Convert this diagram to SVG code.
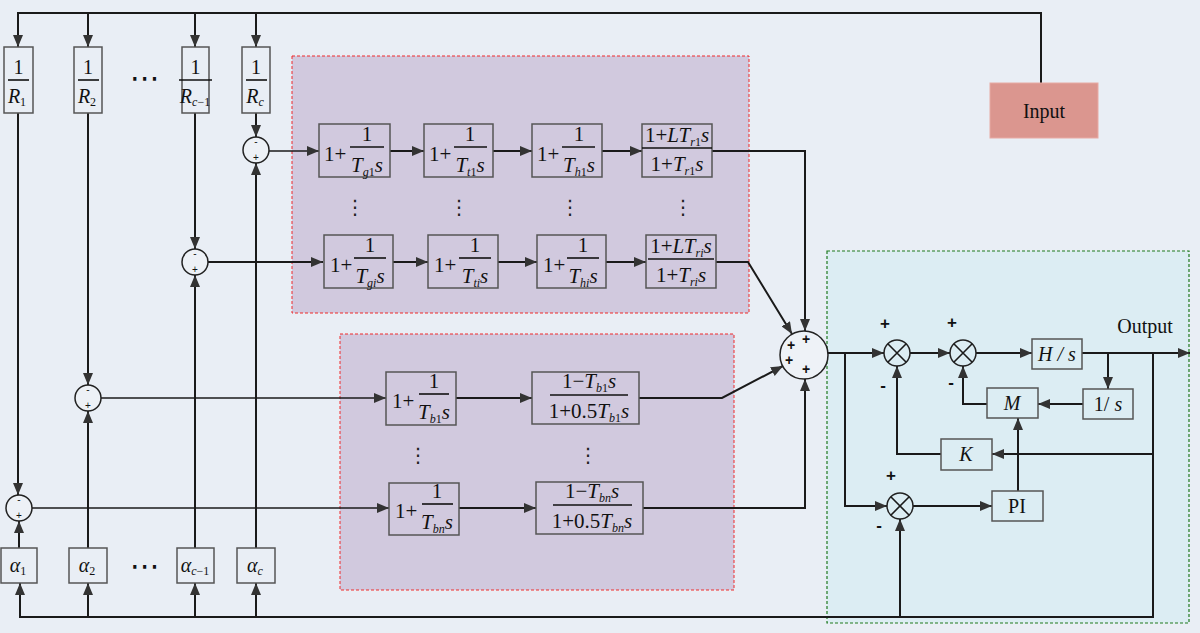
<svg xmlns="http://www.w3.org/2000/svg" width="1200" height="633" viewBox="0 0 1200 633">
<defs>
<marker id="ar" viewBox="0 0 12 10" refX="12" refY="5" markerWidth="12" markerHeight="10" markerUnits="userSpaceOnUse" orient="auto">
<path d="M0,0 L12,5 L0,10 Z" fill="#333"/>
</marker>
<style>
.ln{stroke:#1a1a1a;stroke-width:2;fill:none}
.th{stroke:#1a1a1a;stroke-width:1.6;fill:none}
.bx{fill:none;stroke:#555;stroke-width:1.5}
.cb{fill:#dcedf3;stroke:#555;stroke-width:1.5}
.bar{stroke:#111;stroke-width:1.6}
.m{font-family:"Liberation Serif",serif;font-size:21px;fill:#111}
.r{font-family:"Liberation Serif",serif;font-size:20px;fill:#111}
.i{font-style:italic}
.sb{font-size:12px}
.sm{font-family:"Liberation Sans",sans-serif;font-size:10px;fill:#111;text-anchor:middle}
.pm{font-family:"Liberation Sans",sans-serif;font-size:17px;font-weight:bold;fill:#111;text-anchor:middle}
.ps{font-family:"Liberation Sans",sans-serif;font-size:14px;font-weight:bold;fill:#111;text-anchor:middle}
.dt{font-family:"DejaVu Sans",sans-serif;font-size:20px;fill:#222;text-anchor:middle}
.hd{font-family:"DejaVu Sans",sans-serif;font-size:30px;fill:#111;text-anchor:middle}
.sc{fill:#edf1f6;stroke:#222;stroke-width:1.5}
.mul{fill:#dcedf3;stroke:#222;stroke-width:1.5}
.c{text-anchor:middle}
</style>
</defs>
<rect width="1200" height="633" fill="#e9eef5"/>

<!-- regions -->
<g id="region-thermal-hydro">
<rect x="292" y="56" width="457" height="257" fill="#d1c9de" stroke="#f02a2a" stroke-width="1" stroke-dasharray="3,2"/>
</g>
<g id="region-battery">
<rect x="340" y="334" width="394" height="256" fill="#d1c9de" stroke="#f02a2a" stroke-width="1" stroke-dasharray="3,2"/>
</g>
<g id="region-plant">
<rect x="827" y="251" width="362" height="372" fill="#dcedf3" stroke="#1e7a1e" stroke-width="1.2" stroke-dasharray="3,2"/>
</g>

<!-- connectors -->
<g id="connectors">
<path class="ln" d="M1041,83 V13 H18 V47" marker-end="url(#ar)"/>
<path class="ln" d="M88,13 V47" marker-end="url(#ar)"/>
<path class="ln" d="M195,13 V47" marker-end="url(#ar)"/>
<path class="ln" d="M256,13 V47" marker-end="url(#ar)"/>

<path class="ln" d="M18,113 V495" marker-end="url(#ar)"/>
<path class="ln" d="M88,113 V385" marker-end="url(#ar)"/>
<path class="ln" d="M195,113 V249" marker-end="url(#ar)"/>
<path class="ln" d="M256,113 V137" marker-end="url(#ar)"/>

<path class="ln" d="M19,548 V521" marker-end="url(#ar)"/>
<path class="ln" d="M88,548 V411" marker-end="url(#ar)"/>
<path class="ln" d="M195,548 V275" marker-end="url(#ar)"/>
<path class="ln" d="M256,548 V163" marker-end="url(#ar)"/>

<path class="ln" d="M1153,353 V617 H20 V583" marker-end="url(#ar)"/>
<path class="ln" d="M88,617 V583" marker-end="url(#ar)"/>
<path class="ln" d="M195,617 V583" marker-end="url(#ar)"/>
<path class="ln" d="M256,617 V583" marker-end="url(#ar)"/>

<path class="th" d="M269,151 H319" marker-end="url(#ar)"/>
<path class="ln" d="M208,262 H323" marker-end="url(#ar)"/>
<path class="th" d="M101,398 H386" marker-end="url(#ar)"/>
<path class="th" d="M31,508 H389" marker-end="url(#ar)"/>

<path class="ln" d="M390,151 H424" marker-end="url(#ar)"/>
<path class="ln" d="M493,151 H532" marker-end="url(#ar)"/>
<path class="ln" d="M602,151 H642" marker-end="url(#ar)"/>
<path class="ln" d="M712,151 H805 V331" marker-end="url(#ar)"/>

<path class="ln" d="M393,262 H428" marker-end="url(#ar)"/>
<path class="ln" d="M498,262 H537" marker-end="url(#ar)"/>
<path class="ln" d="M606,262 H646" marker-end="url(#ar)"/>
<path class="ln" d="M716,262 H748 L792,334" stroke-width="2.6" marker-end="url(#ar)"/>

<path class="ln" d="M456,398 H532" marker-end="url(#ar)"/>
<path class="ln" d="M639,398 H722 L783,366" stroke-width="2.6" marker-end="url(#ar)"/>
<path class="ln" d="M459,508 H536" marker-end="url(#ar)"/>
<path class="ln" d="M643,508 H805 V379" marker-end="url(#ar)"/>

<path class="ln" d="M828,353 H884" marker-end="url(#ar)"/>
<path class="ln" d="M910,353 H950" marker-end="url(#ar)"/>
<path class="ln" d="M976,353 H1032" marker-end="url(#ar)"/>
<path class="ln" d="M1082,353 H1190" marker-end="url(#ar)"/>
<path class="ln" d="M1108,353 V389" marker-end="url(#ar)"/>
<path class="ln" d="M1083,404 H1038" marker-end="url(#ar)"/>
<path class="ln" d="M987,404 H963 V366" marker-end="url(#ar)"/>
<path class="ln" d="M845,353 V506 H887" marker-end="url(#ar)"/>
<path class="ln" d="M913,506 H992" marker-end="url(#ar)"/>
<path class="ln" d="M1018,491 V418" marker-end="url(#ar)"/>
<path class="ln" d="M1153,454 H992" marker-end="url(#ar)"/>
<path class="ln" d="M941,454 H897 V366" marker-end="url(#ar)"/>
<path class="ln" d="M900,617 V519" marker-end="url(#ar)"/>
</g>

<!-- input -->
<g id="input">
<rect x="990" y="83" width="108" height="55" fill="#db968f" stroke="#e8aaa4" stroke-width="1"/>
<text x="1044" y="118" class="r c" font-size="19">Input</text>
</g>

<!-- 1/R blocks -->
<g id="R1">
<rect class="bx" x="4" y="47" width="29" height="66"/>
<text x="18.5" y="74" class="r c">1</text>
<line class="bar" x1="8" y1="80" x2="29" y2="80"/>
<text x="17" y="103" class="r c"><tspan class="i">R</tspan><tspan class="sb" dy="3">1</tspan></text>
</g>
<g id="R2">
<rect class="bx" x="74" y="47" width="28" height="66"/>
<text x="88" y="74" class="r c">1</text>
<line class="bar" x1="78" y1="80" x2="99" y2="80"/>
<text x="87" y="103" class="r c"><tspan class="i">R</tspan><tspan class="sb" dy="3">2</tspan></text>
</g>
<text x="145" y="88" class="hd">⋯</text>
<g id="Rc1">
<rect class="bx" x="182" y="47" width="27" height="66"/>
<text x="195.5" y="74" class="r c">1</text>
<line class="bar" x1="179" y1="80" x2="212" y2="80"/>
<text x="195" y="103" class="r c"><tspan class="i">R</tspan><tspan class="sb i" dy="3">c</tspan><tspan class="sb" dy="0">−1</tspan></text>
</g>
<g id="Rc">
<rect class="bx" x="242" y="47" width="28" height="66"/>
<text x="256" y="74" class="r c">1</text>
<line class="bar" x1="246" y1="80" x2="267" y2="80"/>
<text x="255" y="103" class="r c"><tspan class="i">R</tspan><tspan class="sb i" dy="3">c</tspan></text>
</g>

<!-- alpha blocks -->
<g id="a1">
<rect class="bx" x="1" y="548" width="36" height="35"/>
<text x="18" y="572" class="r c"><tspan class="i">α</tspan><tspan class="sb" dy="3">1</tspan></text>
</g>
<g id="a2">
<rect class="bx" x="69" y="548" width="38" height="35"/>
<text x="87" y="572" class="r c"><tspan class="i">α</tspan><tspan class="sb" dy="3">2</tspan></text>
</g>
<text x="145" y="576" class="hd">⋯</text>
<g id="ac1">
<rect class="bx" x="177" y="548" width="37" height="35"/>
<text x="195" y="572" class="r c"><tspan class="i">α</tspan><tspan class="sb i" dy="3">c</tspan><tspan class="sb">−1</tspan></text>
</g>
<g id="ac">
<rect class="bx" x="237" y="548" width="38" height="35"/>
<text x="255" y="572" class="r c"><tspan class="i">α</tspan><tspan class="sb i" dy="3">c</tspan></text>
</g>

<!-- small summing junctions -->
<g id="Sc"><circle class="sc" cx="256" cy="150" r="13"/><text x="256" y="145" class="sm">-</text><text x="256" y="161" class="sm">+</text></g>
<g id="Si"><circle class="sc" cx="195" cy="262" r="13"/><text x="195" y="257" class="sm">-</text><text x="195" y="273" class="sm">+</text></g>
<g id="S2"><circle class="sc" cx="88" cy="398" r="13"/><text x="88" y="393" class="sm">-</text><text x="88" y="409" class="sm">+</text></g>
<g id="S1"><circle class="sc" cx="19" cy="508" r="13"/><text x="19" y="503" class="sm">-</text><text x="19" y="519" class="sm">+</text></g>

<!-- row 1 -->
<g id="g1">
<rect class="bx" x="319" y="124" width="71" height="53"/>
<text x="324" y="161" class="m">1+</text>
<line class="bar" x1="350" y1="147" x2="384" y2="147"/>
<text x="367" y="141" class="m c">1</text>
<text x="367" y="172" class="m c"><tspan class="i">T</tspan><tspan class="sb i" dy="4">g</tspan><tspan class="sb">1</tspan><tspan class="i" dy="-4">s</tspan></text>
</g>
<g id="t1">
<rect class="bx" x="424" y="124" width="69" height="53"/>
<text x="429" y="161" class="m">1+</text>
<line class="bar" x1="454" y1="147" x2="487" y2="147"/>
<text x="470" y="141" class="m c">1</text>
<text x="470" y="172" class="m c"><tspan class="i">T</tspan><tspan class="sb i" dy="4">t</tspan><tspan class="sb">1</tspan><tspan class="i" dy="-4">s</tspan></text>
</g>
<g id="h1">
<rect class="bx" x="532" y="124" width="70" height="53"/>
<text x="537" y="161" class="m">1+</text>
<line class="bar" x1="562" y1="147" x2="595" y2="147"/>
<text x="579" y="141" class="m c">1</text>
<text x="579" y="172" class="m c"><tspan class="i">T</tspan><tspan class="sb i" dy="4">h</tspan><tspan class="sb">1</tspan><tspan class="i" dy="-4">s</tspan></text>
</g>
<g id="r1">
<rect class="bx" x="642" y="124" width="70" height="53"/>
<line class="bar" x1="642" y1="148" x2="712" y2="148"/>
<text x="677" y="142" class="m c" font-size="19"><tspan>1+</tspan><tspan class="i">LT</tspan><tspan class="sb i" dy="4">r</tspan><tspan class="sb">1</tspan><tspan class="i" dy="-4">s</tspan></text>
<text x="677" y="171" class="m c" font-size="19"><tspan>1+</tspan><tspan class="i">T</tspan><tspan class="sb i" dy="4">r</tspan><tspan class="sb">1</tspan><tspan class="i" dy="-4">s</tspan></text>
</g>
<text x="355" y="214" class="dt">⋮</text>
<text x="459" y="214" class="dt">⋮</text>
<text x="570" y="214" class="dt">⋮</text>
<text x="683" y="214" class="dt">⋮</text>

<!-- row i -->
<g id="gi">
<rect class="bx" x="324" y="235" width="69" height="53"/>
<text x="330" y="272" class="m">1+</text>
<line class="bar" x1="354" y1="258" x2="386" y2="258"/>
<text x="370" y="252" class="m c">1</text>
<text x="370" y="283" class="m c"><tspan class="i">T</tspan><tspan class="sb i" dy="4">gi</tspan><tspan class="i" dy="-4">s</tspan></text>
</g>
<g id="ti">
<rect class="bx" x="428" y="235" width="70" height="53"/>
<text x="434" y="272" class="m">1+</text>
<line class="bar" x1="459" y1="258" x2="491" y2="258"/>
<text x="475" y="252" class="m c">1</text>
<text x="475" y="283" class="m c"><tspan class="i">T</tspan><tspan class="sb i" dy="4">ti</tspan><tspan class="i" dy="-4">s</tspan></text>
</g>
<g id="hi">
<rect class="bx" x="537" y="235" width="69" height="53"/>
<text x="543" y="272" class="m">1+</text>
<line class="bar" x1="567" y1="258" x2="599" y2="258"/>
<text x="583" y="252" class="m c">1</text>
<text x="583" y="283" class="m c"><tspan class="i">T</tspan><tspan class="sb i" dy="4">hi</tspan><tspan class="i" dy="-4">s</tspan></text>
</g>
<g id="ri">
<rect class="bx" x="646" y="235" width="70" height="53"/>
<line class="bar" x1="648" y1="259" x2="714" y2="259"/>
<text x="681" y="253" class="m c" font-size="19"><tspan>1+</tspan><tspan class="i">LT</tspan><tspan class="sb i" dy="4">ri</tspan><tspan class="i" dy="-4">s</tspan></text>
<text x="681" y="282" class="m c" font-size="19"><tspan>1+</tspan><tspan class="i">T</tspan><tspan class="sb i" dy="4">ri</tspan><tspan class="i" dy="-4">s</tspan></text>
</g>

<!-- battery rows -->
<g id="b1a">
<rect class="bx" x="386" y="372" width="70" height="53"/>
<text x="392" y="408" class="m">1+</text>
<line class="bar" x1="419" y1="394" x2="449" y2="394"/>
<text x="434" y="388" class="m c">1</text>
<text x="434" y="419" class="m c"><tspan class="i">T</tspan><tspan class="sb i" dy="4">b</tspan><tspan class="sb">1</tspan><tspan class="i" dy="-4">s</tspan></text>
</g>
<g id="b1b">
<rect class="bx" x="532" y="372" width="107" height="52"/>
<line class="bar" x1="550" y1="395" x2="628" y2="395"/>
<text x="589" y="388" class="m c"><tspan>1−</tspan><tspan class="i">T</tspan><tspan class="sb i" dy="4">b</tspan><tspan class="sb">1</tspan><tspan class="i" dy="-4">s</tspan></text>
<text x="589" y="418" class="m c"><tspan>1+0.5</tspan><tspan class="i">T</tspan><tspan class="sb i" dy="4">b</tspan><tspan class="sb">1</tspan><tspan class="i" dy="-4">s</tspan></text>
</g>
<text x="418" y="462" class="dt">⋮</text>
<text x="588" y="462" class="dt">⋮</text>
<g id="bna">
<rect class="bx" x="389" y="483" width="70" height="52"/>
<text x="395" y="518" class="m">1+</text>
<line class="bar" x1="422" y1="504" x2="453" y2="504"/>
<text x="437" y="498" class="m c">1</text>
<text x="437" y="529" class="m c"><tspan class="i">T</tspan><tspan class="sb i" dy="4">bn</tspan><tspan class="i" dy="-4">s</tspan></text>
</g>
<g id="bnb">
<rect class="bx" x="536" y="482" width="107" height="52"/>
<line class="bar" x1="553" y1="505" x2="632" y2="505"/>
<text x="592" y="498" class="m c"><tspan>1−</tspan><tspan class="i">T</tspan><tspan class="sb i" dy="4">bn</tspan><tspan class="i" dy="-4">s</tspan></text>
<text x="592" y="528" class="m c"><tspan>1+0.5</tspan><tspan class="i">T</tspan><tspan class="sb i" dy="4">bn</tspan><tspan class="i" dy="-4">s</tspan></text>
</g>

<!-- big sum -->
<g id="bigsum">
<circle cx="804" cy="355" r="24" fill="#eef2f7" stroke="#222" stroke-width="1.5"/>
<text x="791" y="350" class="ps">+</text>
<text x="806" y="344" class="ps">+</text>
<text x="789" y="365" class="ps">+</text>
<text x="806" y="374" class="ps">+</text>
</g>

<!-- plant -->
<g id="X1">
<circle class="mul" cx="897" cy="353" r="13"/>
<path class="th" d="M887.8,343.8 L906.2,362.2 M906.2,343.8 L887.8,362.2"/>
<text x="885" y="329" class="pm">+</text>
<text x="883" y="391" class="pm">-</text>
</g>
<g id="X2">
<circle class="mul" cx="963" cy="353" r="13"/>
<path class="th" d="M953.8,343.8 L972.2,362.2 M972.2,343.8 L953.8,362.2"/>
<text x="952" y="328" class="pm">+</text>
<text x="951" y="388" class="pm">-</text>
</g>
<g id="X3">
<circle class="mul" cx="900" cy="506" r="13"/>
<path class="th" d="M890.8,496.8 L909.2,515.2 M909.2,496.8 L890.8,515.2"/>
<text x="891" y="481" class="pm">+</text>
<text x="879" y="531" class="pm">-</text>
</g>
<g id="Hs">
<rect class="cb" x="1032" y="339" width="50" height="30"/>
<text x="1057" y="361" class="r c i">H / s</text>
</g>
<g id="inv-s">
<rect class="cb" x="1083" y="389" width="50" height="30"/>
<text x="1108" y="411" class="r c">1/ <tspan class="i">s</tspan></text>
</g>
<g id="M">
<rect class="cb" x="987" y="388" width="51" height="30"/>
<text x="1012" y="410" class="r c i">M</text>
</g>
<g id="K">
<rect class="cb" x="941" y="439" width="51" height="31"/>
<text x="966" y="461" class="r c i">K</text>
</g>
<g id="PI">
<rect class="cb" x="992" y="491" width="51" height="30"/>
<text x="1017" y="513" class="r c">PI</text>
</g>
<text x="1145" y="333" class="r c" font-size="18">Output</text>
</svg>
